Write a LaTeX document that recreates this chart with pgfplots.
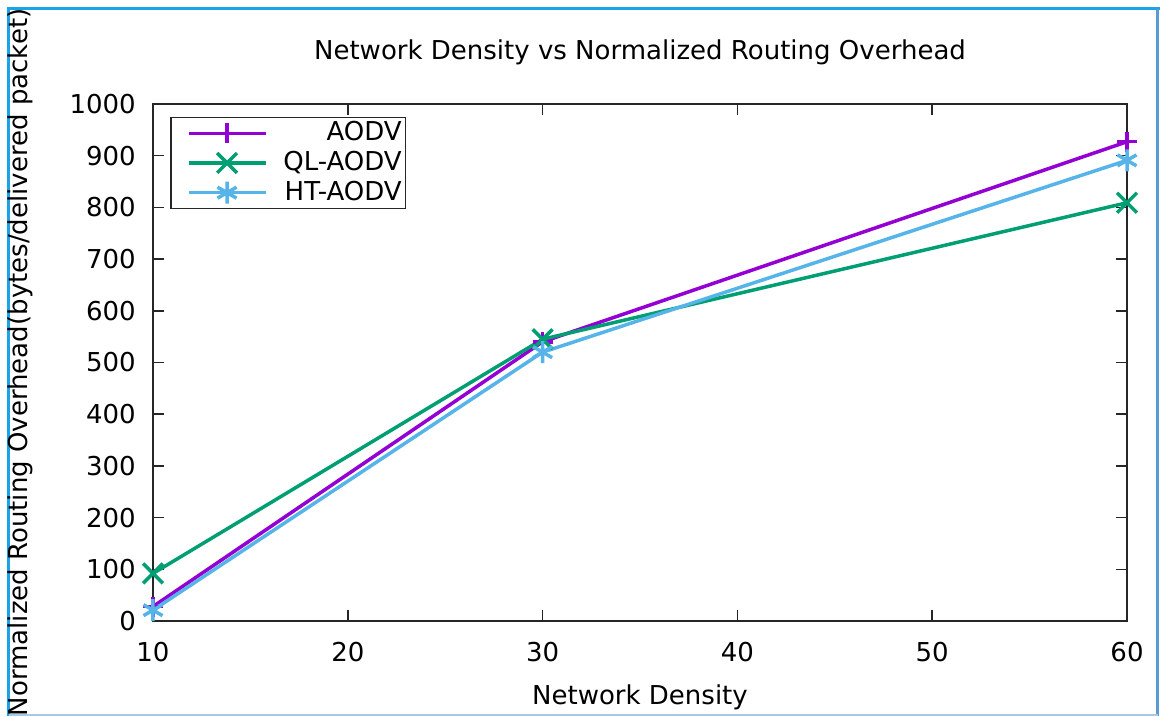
\documentclass[border=0pt]{standalone}
\usepackage{fontspec}
\setmainfont{DejaVu Sans}
\usepackage{pgfplots}
\pgfplotsset{compat=1.18}
\definecolor{cA}{HTML}{9400D3}
\definecolor{cQ}{HTML}{009E73}
\definecolor{cH}{HTML}{56B4E9}
\definecolor{frameA}{HTML}{1AA3E8}
\definecolor{frameB}{HTML}{5B9BD5}
\definecolor{frameC}{HTML}{A8C8E4}
\begin{document}
\fontsize{26}{30}\selectfont
\begin{tikzpicture}[x=1pt,y=1pt]
\useasboundingbox (0,0) rectangle (1160,-716);
\draw[frameA,line width=3pt] (8.5,-716) -- (8.5,-8.5) -- (1160,-8.5);
\draw[frameB,line width=3pt] (1157.5,-8.5) -- (1157.5,-716);
\draw[frameC,line width=2pt] (8.5,-714.5) -- (1157.5,-714.5);
\begin{axis}[
  at={(153pt,-621pt)}, anchor=south west,
  scale only axis, width=974pt, height=517pt,
  xmin=10, xmax=60, ymin=0, ymax=1000,
  xtick={10,20,...,60}, ytick={0,100,...,1000},
  tick align=inside, major tick length=11pt,
  tick style={line width=1.5pt, black!85},
  axis line style={line width=2pt, black!85},
  /pgf/number format/assume math mode=true,
  /pgf/number format/1000 sep={},
  ticklabel style={font=\fontsize{26}{30}\selectfont},
  yticklabel style={inner sep=0pt, xshift=-17pt},
  xticklabel style={inner sep=0pt, yshift=-21pt},
  title={Network Density vs Normalized Routing Overhead},
  title style={at={(axis description cs:0.5,1.089)}, anchor=center, inner sep=0pt},
  xlabel={Network Density},
  xlabel style={at={(axis description cs:0.5,-0.147)}, anchor=center, inner sep=0pt},
  ylabel={Normalized Routing Overhead(bytes/delivered packet)},
  ylabel style={at={(axis description cs:-0.1366,0.5)}, anchor=center, rotate=0, inner sep=0pt},
  label style={font=\fontsize{26}{30}\selectfont},
  legend cell align=right,
  legend style={at={(0.0175,0.975)}, anchor=north west, draw=black!85, line width=1.5pt,
    font=\fontsize{26}{30}\selectfont, row sep=2.5pt, column sep=0pt, inner sep=2pt,
    nodes={inner sep=2pt}},
  legend image code/.code={\path (-14pt,0pt) (91pt,0pt);\draw[mark repeat=2,mark phase=2] plot coordinates {(0pt,0pt) (38.5pt,0pt) (77pt,0pt)};},
  every axis plot/.append style={line width=3.5pt, mark options={solid, line width=3.5pt}},
]
\addplot[cA, mark=+, mark size=10pt] coordinates {(10,28) (30,540) (60,927)};
\addlegendentry{AODV}
\addplot[cQ, mark=x, mark size=14pt] coordinates {(10,92) (30,545) (60,809)};
\addlegendentry{QL-AODV}
\addplot[cH, mark=asterisk, mark size=11pt] coordinates {(10,21) (30,520) (60,891)};
\addlegendentry{HT-AODV}
\end{axis}
\end{tikzpicture}
\end{document}
